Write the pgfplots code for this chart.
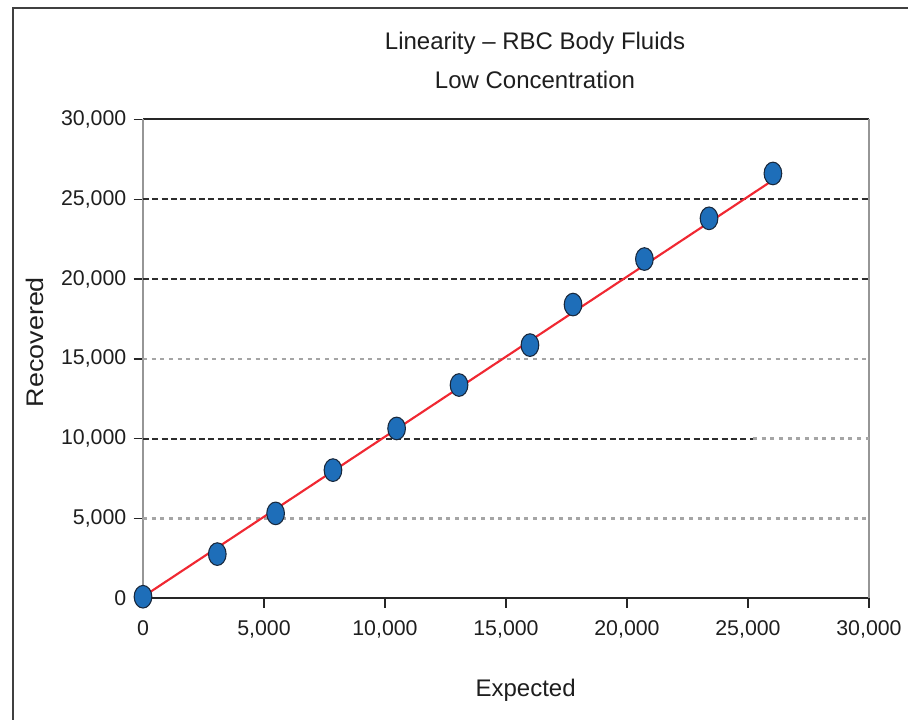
\documentclass[border=0pt]{standalone}
\usepackage{fontspec}
\setmainfont{Liberation Sans}
\usepackage{pgfplots}
\pgfplotsset{compat=1.18}
\definecolor{dotblue}{RGB}{30,110,185}
\definecolor{dotedge}{RGB}{25,40,60}
\definecolor{fitred}{RGB}{240,40,50}
\definecolor{gridgray}{RGB}{165,165,165}
\definecolor{griddark}{RGB}{45,45,45}
\definecolor{axgray}{RGB}{150,150,150}
\definecolor{txt}{RGB}{30,30,30}
\pgfplotstableread{
x y
0 100
3070 2770
5480 5320
7850 8030
10480 10640
13060 13360
15990 15860
17770 18400
20720 21250
23390 23800
26030 26610
}\pts
\begin{document}
\begin{tikzpicture}[x=0.75pt,y=0.75pt]
\path[use as bounding box] (0,0) rectangle (908,719);
\draw[line width=1.5pt, black!75] (13,-10) -- (13,710.5) -- (920,710.5);
\node[font=\fontsize{18}{20}\selectfont, text=txt] at (535,676) {Linearity -- RBC Body Fluids};
\node[font=\fontsize{18}{20}\selectfont, text=txt] at (535,639) {Low Concentration};
\begin{axis}[
  at={(107.25pt,90.5pt)}, anchor=south west,
  scale only axis, width=544.5pt, height=359.25pt,
  xmin=0, xmax=30000, ymin=0, ymax=30000,
  xtick={0,5000,...,30000}, ytick={0,5000,...,30000},
  scaled ticks=false,
  /pgf/number format/1000 sep={,},
  /pgf/number format/assume math mode=true,
  tick label style={font=\fontsize{16}{18}\selectfont, text=txt},
  separate axis lines,
  x axis line style={black!85, line width=1.3pt},
  y axis line style={axgray, line width=1.6pt},
  xtick pos=bottom, ytick pos=left,
  tick align=outside, major tick length=7pt,
  tick style={black!85, line width=1pt},
  xticklabel style={yshift=-6pt},
  yticklabel style={xshift=-2pt},
  xlabel={Expected},
  xlabel style={font=\fontsize{18}{20}\selectfont, text=txt, at={(axis description cs:0.527,-0.191)}, anchor=center},
  ylabel={\scalebox{1.12}[1]{Recovered}},
  ylabel style={font=\fontsize{18}{20}\selectfont, text=txt, at={(axis description cs:-0.149,0.535)}, anchor=center},
  clip=false,
]
\addplot[gridgray, line width=2pt, dash pattern=on 3pt off 3.5pt] coordinates {(0,5000) (30000,5000)};
\addplot[gridgray, line width=2pt, dash pattern=on 3pt off 3.5pt] coordinates {(0,15000) (30000,15000)};
\addplot[gridgray, line width=2pt, dash pattern=on 3pt off 3.5pt] coordinates {(25200,10000) (30000,10000)};
\addplot[griddark, line width=1.4pt, dash pattern=on 4.5pt off 2.5pt] coordinates {(0,10000) (25200,10000)};
\addplot[griddark, line width=1.4pt, dash pattern=on 4.5pt off 2.5pt] coordinates {(0,20000) (30000,20000)};
\addplot[griddark, line width=1.4pt, dash pattern=on 4.5pt off 2.5pt] coordinates {(0,25000) (30000,25000)};
\addplot[only marks, mark=*, mark size=8.5pt, mark options={xscale=0.78, fill=dotblue, draw=dotedge, line width=0.8pt}] table[x=x,y=y] {\pts};
\addplot[fitred, line width=1.6pt] coordinates {(0,100) (26030,26190)};
\end{axis}
\end{tikzpicture}
\end{document}
